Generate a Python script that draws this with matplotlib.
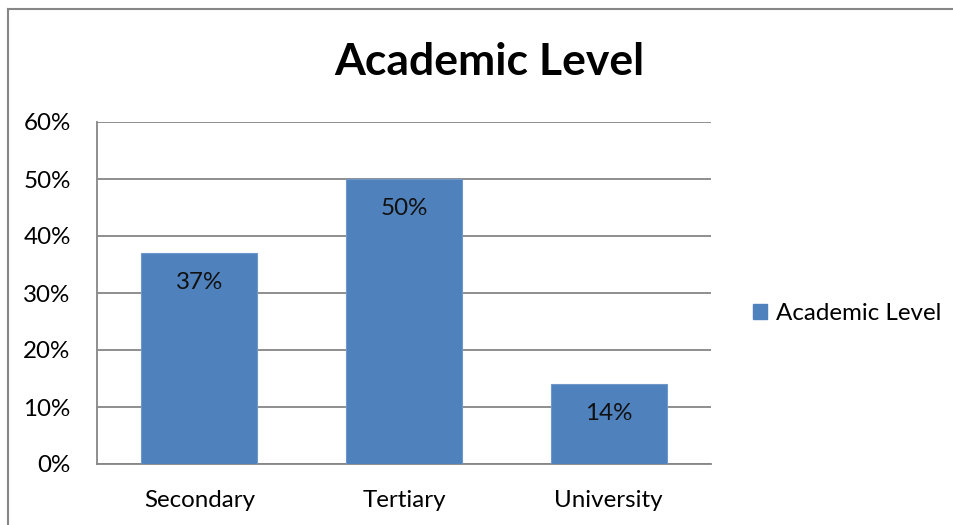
import matplotlib
matplotlib.use("Agg")
import matplotlib.pyplot as plt
from matplotlib.patches import Patch

categories = ["Secondary", "Tertiary", "University"]
values = [37, 50, 14]
yticks = [0, 10, 20, 30, 40, 50, 60]
series_name = "Academic Level"

BAR = "#4F81BD"
GRID = "#868686"

plt.rcParams["font.family"] = ["Lato", "DejaVu Sans"]

fig = plt.figure(figsize=(9.54, 5.25), dpi=100)
ax = fig.add_axes([97 / 954, 61 / 525, 614 / 954, 342 / 525])

x = range(len(categories))
bars = ax.bar(x, values, width=0.567, color=BAR, edgecolor="#6f97c9",
              linewidth=0.8, zorder=3)
for b, v in zip(bars, values):
    ax.text(b.get_x() + b.get_width() / 2, v - 5.2, f"{v}%",
            ha="center", va="center", fontsize=17.4, color="#111111", zorder=4)

ax.set_xlim(-0.5, len(categories) - 0.5)
ax.set_ylim(0, 60)
ax.set_yticks(yticks)
ax.set_yticklabels([f"{t}%" for t in yticks], fontsize=17.4)
ax.set_xticks(list(x))
ax.set_xticklabels(categories, fontsize=17.4)
ax.tick_params(axis="y", length=0, pad=19)
ax.tick_params(axis="x", length=0, pad=18.5)
ax.yaxis.grid(True, color=GRID, linewidth=1.3, zorder=0)
for s in ["top", "right"]:
    ax.spines[s].set_visible(False)
for s in ["left", "bottom"]:
    ax.spines[s].set_color(GRID)
    ax.spines[s].set_linewidth(1.3)

fig.text(489 / 954, 1 - 62 / 525, "Academic Level", ha="center", va="center",
         fontsize=32, fontweight="bold")

fig.legend(handles=[Patch(color=BAR, label=series_name)], loc="center left",
           bbox_to_anchor=(731 / 954, 1 - 314 / 525), frameon=False,
           fontsize=17.4, handlelength=0.58, handleheight=0.58, handletextpad=0.37)

# outer chart border (left and top only visible)
fig.add_artist(plt.Line2D([8.5 / 954, 8.5 / 954], [0, 1 - 8.5 / 525],
                          color=GRID, linewidth=1.5))
fig.add_artist(plt.Line2D([8.5 / 954, 1], [1 - 8.5 / 525, 1 - 8.5 / 525],
                          color=GRID, linewidth=1.5))

fig.savefig("out.png", dpi=100, facecolor="white")
